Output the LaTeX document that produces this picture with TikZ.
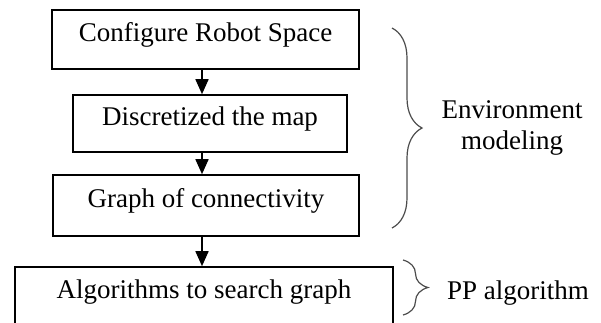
\documentclass[tikz,border=0pt]{standalone}
\usepackage{fontspec}
\setmainfont{Liberation Serif}
\usetikzlibrary{arrows.meta,decorations.pathreplacing}

\tikzset{
	stepbox/.style={draw, line width=1.6pt, inner sep=0pt, align=center,
		text height=0.68em, text depth=0.22em},
	flow/.style={line width=1.6pt, -{Triangle[width=13pt,length=15pt]}},
	bracket/.style={draw=black!70, line width=1.2pt, decorate,
		decoration={brace, amplitude=#1}},
}

\begin{document}
\begin{tikzpicture}[x=1pt, y=-1pt, every node/.style={font=\fontsize{27}{33}\selectfont}]
		\useasboundingbox (0,0) rectangle (601,322);

		% Draw the boxes
		\node[stepbox, minimum width=307pt, minimum height=59pt] (config) at (205.5,39.5) {Configure Robot Space};
		\node[stepbox, minimum width=274pt, minimum height=57pt] (discrete) at (210,123.5) {Discretized the map};
		\node[stepbox, minimum width=306pt, minimum height=61pt] (graph) at (206,205.5) {Graph of connectivity};
		\node[stepbox, minimum width=378pt, minimum height=59pt] (search) at (204,296.5) {Algorithms to search graph};

		% Draw the arrows between the boxes
		\coordinate (ax) at (202,0);
		\draw[flow] (config.south -| ax) -- (discrete.north -| ax);
		\draw[flow] (discrete.south -| ax) -- (graph.north -| ax);
		\draw[flow] (graph.south -| ax) -- (search.north -| ax);

		% Draw the braces
		\draw[bracket=30pt] (392,28) -- (392,228);
		\draw[bracket=25pt] (403,260) -- (403,315);

		\node[align=center, inner sep=0pt] (envlabel) at (512,128) {Environment\\[-2pt]modeling};
		\node[inner sep=0pt] (pplabel) at (518,293) {PP algorithm};

	\end{tikzpicture}
\end{document}
